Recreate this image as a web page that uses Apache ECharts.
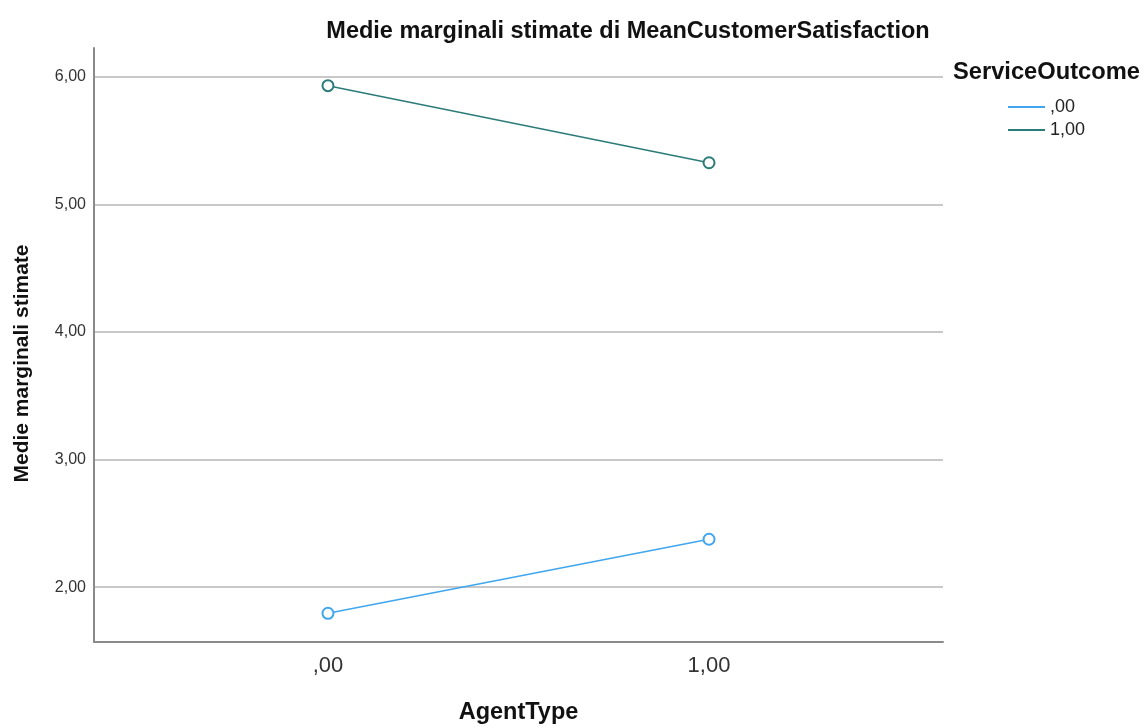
<!DOCTYPE html>
<html>
<head>
<meta charset="utf-8">
<script src="https://cdn.jsdelivr.net/npm/echarts@6/dist/echarts.min.js"></script>
<style>
html,body{margin:0;padding:0;background:#fff;}
#c{width:1146px;height:728px;}
</style>
</head>
<body>
<div id="c"></div>
<script>
const xValues = [0, 1];
const xTickLabels = [',00', '1,00'];
const yTicks = [2, 3, 4, 5, 6];
const yTickLabels = ['2,00', '3,00', '4,00', '5,00', '6,00'];
const seriesNames = [',00', '1,00'];
const outcome0 = [1.796, 2.376];
const outcome1 = [5.930, 5.326];

const FONT = 'Liberation Sans, Arial, sans-serif';
const colors = ['#40a6ef', '#2b7c78'];

const chart = echarts.init(document.getElementById('c'));
chart.setOption({
  animation: false,
  backgroundColor: '#ffffff',
  title: {
    text: 'Medie marginali stimate di MeanCustomerSatisfaction',
    left: 623, top: 15, textAlign: 'center',
    textStyle: {fontFamily: FONT, fontSize: 23.5, fontWeight: 'bold', color: '#111'}
  },
  graphic: [
    {
      type: 'text', left: 953, top: 60,
      style: {text: 'ServiceOutcome', fontFamily: FONT, fontSize: 23.7, fontWeight: 'bold', fill: '#111'}
    },
    {
      type: 'text', x: 22, y: 363.5, rotation: Math.PI / 2,
      style: {text: 'Medie marginali stimate', fontFamily: FONT, fontSize: 21, fontWeight: 'bold',
              fill: '#111', align: 'center', verticalAlign: 'middle'}
    }
  ],
  legend: {
    orient: 'vertical', left: 1003, top: 93,
    itemWidth: 37, itemHeight: 2, itemGap: 5, icon: 'rect',
    textStyle: {fontFamily: FONT, fontSize: 18, color: '#222'},
    data: seriesNames
  },
  grid: {left: 94, right: 203, top: 48, bottom: 86, containLabel: false, outerBoundsMode: 'none'},
  xAxis: {
    type: 'value', min: -0.614, max: 1.614,
    name: 'AgentType', nameLocation: 'middle', nameGap: 59,
    nameTextStyle: {fontFamily: FONT, fontSize: 23.5, fontWeight: 'bold', color: '#111', verticalAlign: 'top'},
    axisLine: {show: true, onZero: false, lineStyle: {color: '#8a8a8a', width: 2}},
    axisTick: {show: false},
    splitLine: {show: false},
    axisLabel: {
      customValues: xValues,
      formatter: v => xTickLabels[xValues.indexOf(v)],
      fontFamily: FONT, fontSize: 22, color: '#333', margin: 13
    }
  },
  yAxis: {
    type: 'value', min: 1.571, max: 6.225,
    axisLine: {show: true, onZero: false, lineStyle: {color: '#8a8a8a', width: 2}},
    axisTick: {show: false, customValues: yTicks},
    splitLine: {show: true, lineStyle: {color: '#c8c8c8', width: 2}},
    axisLabel: {
      customValues: yTicks,
      formatter: v => yTickLabels[yTicks.indexOf(v)],
      fontFamily: FONT, fontSize: 16, color: '#333', margin: 8
    }
  },
  series: [
    {name: seriesNames[0], type: 'line', data: xValues.map((x, i) => [x, outcome0[i]]),
     symbol: 'emptyCircle', symbolSize: 11, color: colors[0],
     lineStyle: {width: 1.5, color: colors[0]}, itemStyle: {borderWidth: 1.5}},
    {name: seriesNames[1], type: 'line', data: xValues.map((x, i) => [x, outcome1[i]]),
     symbol: 'emptyCircle', symbolSize: 11, color: colors[1],
     lineStyle: {width: 1.5, color: colors[1]}, itemStyle: {borderWidth: 1.5}}
  ]
});
</script>
</body>
</html>
